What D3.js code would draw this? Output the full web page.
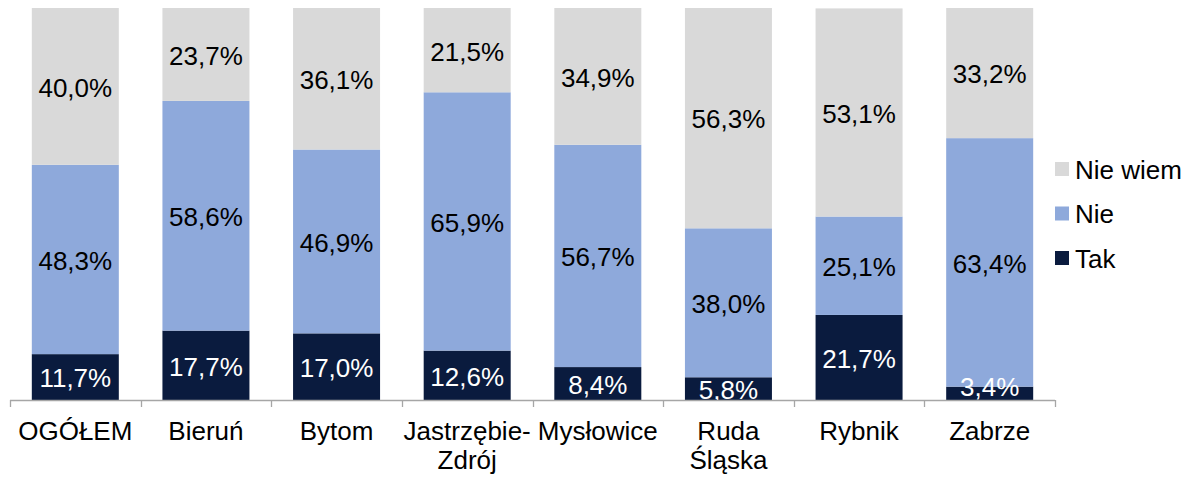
<!DOCTYPE html>
<html>
<head>
<meta charset="utf-8">
<script src="https://cdn.jsdelivr.net/npm/d3@7"></script>
<style>
  html, body { margin: 0; padding: 0; background: #fff; }
  svg text { font-family: "Liberation Sans", Arial, sans-serif; }
</style>
</head>
<body>
<svg id="chart" width="1191" height="477"></svg>
<script>
// Categories (city names; "\n" splits a label onto two lines)
const categories = ["OGÓŁEM", "Bieruń", "Bytom", "Jastrzębie-\nZdrój", "Mysłowice", "Ruda\nŚląska", "Rybnik", "Zabrze"];
// Share of answers per category, in percent
const tak     = [11.7, 17.7, 17.0, 12.6, 8.4, 5.8, 21.7, 3.4];
const nie     = [48.3, 58.6, 46.9, 65.9, 56.7, 38.0, 25.1, 63.4];
const nieWiem = [40.0, 23.7, 36.1, 21.5, 34.9, 56.3, 53.1, 33.2];
// Series names and colours, bottom to top
const seriesNames = ["Tak", "Nie", "Nie wiem"];
const seriesColors = ["#0A1B3E", "#8EA9DB", "#D9D9D9"];
const labelColors = ["#FFFFFF", "#000000", "#000000"];

const rows = categories.map((c, i) => ({ cat: c, Tak: tak[i], Nie: nie[i], "Nie wiem": nieWiem[i] }));
const stack = d3.stack().keys(seriesNames)(rows);

const svg = d3.select("#chart");
const plotLeft = 10, plotRight = 1055, plotTop = 8, plotBottom = 400;
const fontSize = 26;

const x = d3.scaleBand().domain(categories).range([plotLeft, plotRight]).paddingInner(0.334).paddingOuter(0.167);
const y = d3.scaleLinear().domain([0, 100]).range([plotBottom, plotTop]);
const fmt = v => d3.format(".1f")(v).replace(".", ",") + "%";

// Stacked bars
const layers = svg.append("g").selectAll("g").data(stack).join("g")
  .attr("fill", (d, i) => seriesColors[i]);
layers.selectAll("rect").data(d => d).join("rect")
  .attr("x", d => x(d.data.cat))
  .attr("width", x.bandwidth())
  .attr("y", d => y(Math.min(d[1], 100)))
  .attr("height", d => y(d[0]) - y(Math.min(d[1], 100)));

// Value labels centred in each segment; a label that would run below
// the axis is lifted back inside the plot area
const labelBaseline = d => {
  const b = y((d[0] + d[1]) / 2) + 0.4 * fontSize;
  return b > plotBottom ? plotBottom - 4 : b;
};
stack.forEach((s, si) => {
  svg.append("g").selectAll("text").data(s).join("text")
    .attr("x", d => x(d.data.cat) + x.bandwidth() / 2)
    .attr("y", labelBaseline)
    .attr("text-anchor", "middle")
    .attr("font-size", fontSize)
    .attr("fill", labelColors[si])
    .text(d => fmt(d.data[s.key]));
});

// Category axis
const axisColor = "#A6A6A6";
const ax = svg.append("g");
ax.append("line").attr("x1", plotLeft).attr("x2", plotRight).attr("y1", plotBottom + 0.5).attr("y2", plotBottom + 0.5)
  .attr("stroke", axisColor).attr("stroke-width", 1.3);
const step = x.step();
d3.range(categories.length + 1).forEach(i => {
  const tx = Math.round(plotLeft + i * step) + 0.5;
  ax.append("line").attr("x1", tx).attr("x2", tx).attr("y1", plotBottom).attr("y2", plotBottom + 7)
    .attr("stroke", axisColor).attr("stroke-width", 1.3);
});
ax.selectAll("text.cat").data(categories).join("text")
  .attr("class", "cat")
  .attr("text-anchor", "middle")
  .attr("font-size", fontSize)
  .attr("fill", "#000")
  .attr("x", d => x(d) + x.bandwidth() / 2)
  .attr("y", 440)
  .each(function (d) {
    d.split("\n").forEach((line, li) => {
      d3.select(this).append("tspan")
        .attr("x", x(d) + x.bandwidth() / 2)
        .attr("dy", li === 0 ? 0 : 29)
        .text(line);
    });
  });

// Legend, top to bottom: Nie wiem, Nie, Tak
const legendOrder = [2, 1, 0];
const lg = svg.append("g");
legendOrder.forEach((si, k) => {
  const cy = 169 + k * 44.5;
  lg.append("rect").attr("x", 1055).attr("y", cy - 7).attr("width", 14).attr("height", 14)
    .attr("fill", seriesColors[si]);
  lg.append("text").attr("x", 1075).attr("y", cy).attr("dy", "0.37em")
    .attr("font-size", fontSize).attr("fill", "#000").text(seriesNames[si]);
});
</script>
</body>
</html>
